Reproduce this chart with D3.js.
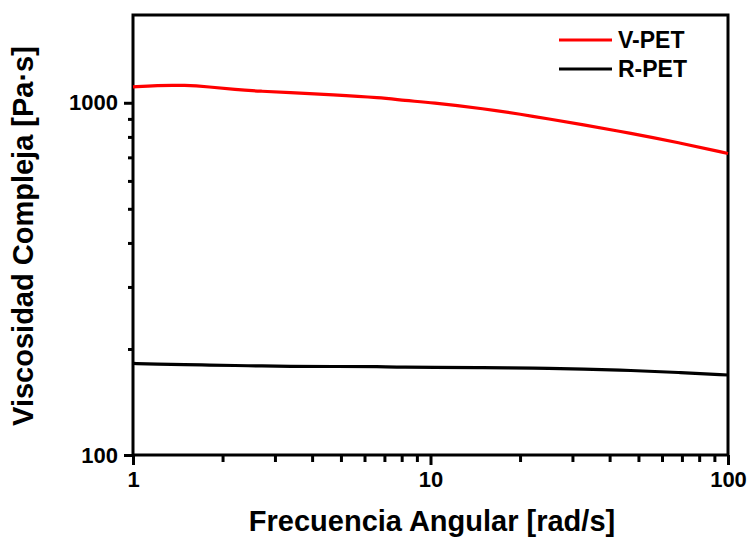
<!DOCTYPE html>
<html>
<head>
  <title>Viscosidad Compleja vs Frecuencia Angular</title>
  <script src="https://d3js.org/d3.v7.min.js"></script>
  <style>
    body { margin: 0; background: #fff; font-family: "Liberation Sans", Arial, sans-serif; }
    .axis path { display: none; }
    .axis line { stroke: #000; stroke-width: 3; }
    .axis text { font-size: 22px; font-weight: bold; fill: #000; font-family: "Liberation Sans", Arial, sans-serif; }
    .axis-label { font-size: 29px; font-weight: bold; fill: #000; text-anchor: middle; }
    .legend-text { font-size: 23px; font-weight: bold; fill: #000; }
  </style>
</head>
<body>
  <div id="chart"></div>
  <script>
    // Data (log-log)
    const frequency = [1, 1.2, 1.5, 1.8, 2.2, 2.7, 3.3, 4.7, 6.8, 8.2, 10, 15, 22, 33, 47, 68, 100];
    const vPet = [1110, 1121, 1122, 1110, 1090, 1078, 1069, 1054, 1034, 1015, 1002, 963, 917, 864, 820, 771, 718];
    const rPet = [182, 181, 180.5, 180, 179.5, 179, 178.5, 178.3, 178.3, 177.4, 177.2, 177.1, 176.6, 175.5, 173.8, 171.6, 168.7];

    const seriesNames = ["V-PET", "R-PET"];
    const seriesColors = ["#ff0000", "#000000"];

    const xMajorTicks = [1, 10, 100];
    const yMajorTicks = [100, 1000];

    function renderChart(selection) {
      const W = 748, H = 537;
      const margin = {top: 15, right: 20, bottom: 82, left: 133};
      const width = W - margin.left - margin.right;
      const height = H - margin.top - margin.bottom;

      const svg = selection.append("svg")
        .attr("width", W)
        .attr("height", H);

      const g = svg.append("g")
        .attr("transform", `translate(${margin.left},${margin.top})`);

      const x = d3.scaleLog().domain([1, 100]).range([0, width]);
      const y = d3.scaleLog().domain([100, 1775]).range([height, 0]);

      // minor ticks
      const xMinor = d3.range(2, 10).concat(d3.range(2, 10).map(d => d * 10));
      const yMinor = d3.range(2, 10).map(d => d * 100);

      g.append("g")
        .attr("class", "axis")
        .attr("transform", `translate(0,${height})`)
        .call(d3.axisBottom(x).tickValues(xMinor).tickSize(7).tickFormat(""));

      g.append("g")
        .attr("class", "axis")
        .call(d3.axisLeft(y).tickValues(yMinor).tickSize(5).tickFormat(""));

      // major ticks
      g.append("g")
        .attr("class", "axis")
        .attr("transform", `translate(0,${height})`)
        .call(d3.axisBottom(x).tickValues(xMajorTicks).tickSize(10).tickPadding(6).tickFormat(d3.format("d")));

      g.append("g")
        .attr("class", "axis")
        .call(d3.axisLeft(y).tickValues(yMajorTicks).tickSize(9).tickPadding(6).tickFormat(d3.format("d")));

      // frame
      g.append("rect")
        .attr("width", width)
        .attr("height", height)
        .attr("fill", "none")
        .attr("stroke", "#000")
        .attr("stroke-width", 3);

      const line = d3.line()
        .x(d => x(d[0]))
        .y(d => y(d[1]))
        .curve(d3.curveBasis);

      const series = [vPet, rPet];
      series.forEach((vals, i) => {
        g.append("path")
          .datum(frequency.map((f, j) => [f, vals[j]]))
          .attr("fill", "none")
          .attr("stroke", seriesColors[i])
          .attr("stroke-width", 3.2)
          .attr("d", line);
      });

      // legend
      const legend = g.append("g")
        .attr("transform", `translate(${559 - margin.left},${40 - margin.top})`);
      seriesNames.forEach((name, i) => {
        const row = legend.append("g").attr("transform", `translate(0,${i * 29})`);
        row.append("line")
          .attr("x1", 0).attr("x2", 53)
          .attr("stroke", seriesColors[i])
          .attr("stroke-width", 3);
        row.append("text")
          .attr("class", "legend-text")
          .attr("x", 59)
          .attr("y", 8)
          .text(name);
      });

      // axis titles
      svg.append("text")
        .attr("class", "axis-label")
        .attr("x", 432)
        .attr("y", 531)
        .text("Frecuencia Angular [rad/s]");

      svg.append("text")
        .attr("class", "axis-label")
        .attr("transform", "rotate(-90)")
        .attr("x", -236)
        .attr("y", 33)
        .text("Viscosidad Compleja [Pa·s]");
    }

    renderChart(d3.select("#chart"));
  </script>
</body>
</html>
